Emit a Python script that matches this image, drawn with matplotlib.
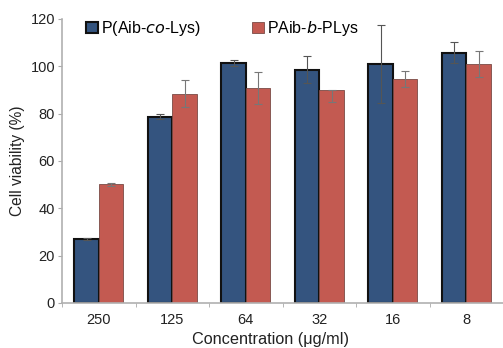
import matplotlib
matplotlib.use("Agg")
import matplotlib.pyplot as plt
import numpy as np

plt.rcParams['font.family'] = ['Liberation Sans', 'DejaVu Sans']

categories = ["250", "125", "64", "32", "16", "8"]
co_vals = [27, 78.8, 101.4, 98.6, 101, 105.8]
co_err = [0.3, 1.0, 1.2, 5.6, 16.4, 4.5]
b_vals = [50.2, 88.4, 90.8, 90.0, 94.6, 100.9]
b_err_low = [0.6, 5.7, 6.7, 5.0, 3.5, 5.6]
b_err_high = [0.6, 5.7, 6.7, 0.0, 3.5, 5.6]

blue = "#34547f"
red = "#c35a51"

fig = plt.figure(figsize=(5.03, 3.48), dpi=100)
ax = fig.add_axes([62/503, 1-303/348, 1-62/503, (303-19)/348])

x = np.arange(len(categories))
w = 1/3
ax.bar(x - w/2, co_vals, width=w, color=blue, edgecolor="#111111", linewidth=1.5,
       label="P(Aib-$\\it{co}$-Lys)", zorder=2)
ax.bar(x + w/2, b_vals, width=w, color=red, edgecolor="#7a4a45", linewidth=0.6,
       label="PAib-$\\it{b}$-PLys", zorder=2)
ax.errorbar(x - w/2, co_vals, yerr=co_err, fmt="none", ecolor="#555555",
            elinewidth=0.8, capsize=3, capthick=0.8, zorder=3)
ax.errorbar(x + w/2, b_vals, yerr=[b_err_low, b_err_high], fmt="none", ecolor="#777777",
            elinewidth=0.8, capsize=3, capthick=0.8, zorder=3)

ax.set_xlim(-0.5, 5 + (503-475)/75)
ax.set_ylim(0, 120)
ax.set_yticks([0, 20, 40, 60, 80, 100, 120])
ax.set_xticks(x)
ax.set_xticklabels(categories)
ax.set_xticks(np.arange(-0.5, 5.6, 1), minor=True)
ax.tick_params(axis="x", which="major", length=0, labelsize=10.5, pad=7, colors="#222222")
ax.tick_params(axis="x", which="minor", length=3, color="#aaaaaa")
ax.tick_params(axis="y", length=3, color="#aaaaaa", labelsize=10.5, pad=2, labelcolor="#222222")

for s in ["top", "right"]:
    ax.spines[s].set_visible(False)
for s in ["left", "bottom"]:
    ax.spines[s].set_color("#b0b0b0")
    ax.spines[s].set_linewidth(1.2)

ax.set_xlabel("Concentration (μg/ml)", fontsize=11.7, color="#222222", labelpad=5)
ax.xaxis.set_label_coords(0.472, -0.102)
ax.set_ylabel("Cell viability (%)", fontsize=11.2, color="#222222", labelpad=4)

leg = ax.legend(loc="upper left", bbox_to_anchor=(0.022, 1.05), ncol=2, frameon=False,
                handlelength=0.75, handleheight=0.75, handletextpad=0.2,
                columnspacing=3.2, fontsize=11.5)

fig.savefig("out.png", dpi=100)
